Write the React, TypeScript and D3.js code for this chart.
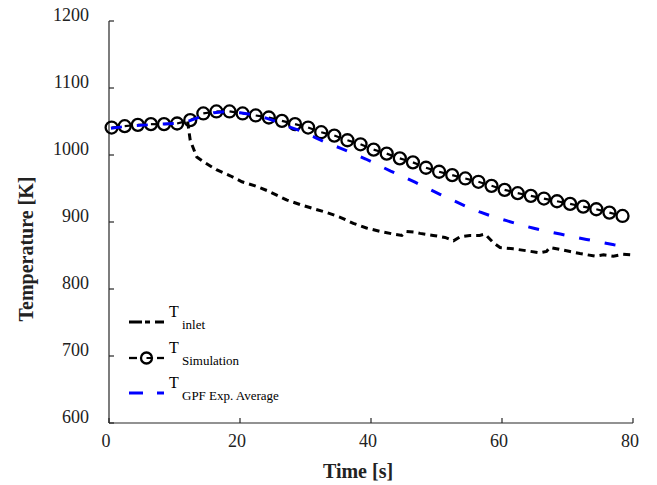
import React from "react";
import * as d3 from "d3";

// ---- data ----
const xTicks = [0, 20, 40, 60, 80];
const yTicks = [600, 700, 800, 900, 1000, 1100, 1200];

const simTime = [0.4, 2.4, 4.4, 6.4, 8.4, 10.4, 12.4, 14.4, 16.4, 18.4, 20.4, 22.4, 24.4, 26.4, 28.4, 30.4, 32.4, 34.4, 36.4, 38.4, 40.4, 42.4, 44.4, 46.4, 48.4, 50.4, 52.4, 54.4, 56.4, 58.4, 60.4, 62.4, 64.4, 66.4, 68.4, 70.4, 72.4, 74.4, 76.4, 78.4];
const simTemp = [1041, 1043, 1045, 1046, 1046, 1047, 1052, 1062, 1065, 1065, 1062, 1059, 1056, 1051, 1046, 1041, 1034, 1029, 1022, 1016, 1008, 1002, 995, 989, 981, 975, 970, 965, 960, 954, 948, 943, 939, 935, 931, 927, 923, 919, 914, 909];

const gpfTime = [0.3, 2, 4, 6, 8, 10, 12, 14, 16, 18, 20, 22, 24, 25.5, 27.5, 29.6, 31.5, 33.5, 35.4, 37.3, 39.2, 41.1, 43, 44.9, 46.8, 48.7, 50.6, 52.6, 54.6, 56.6, 58.6, 60.7, 62.7, 64.7, 66.8, 68.9, 70.9, 72.9, 75, 77.1, 78.5];
const gpfTemp = [1040, 1042, 1044, 1045, 1046, 1047, 1050, 1057, 1063, 1065, 1063, 1060, 1055, 1050, 1042, 1035, 1026, 1017, 1010, 1002, 994, 985, 976, 968, 959, 950, 941, 932, 923, 915, 908, 902, 896, 891, 886, 882, 878, 874, 870, 866, 864];

const inletTime = [12.0, 12.4, 13.4, 14.4, 16.4, 18.5, 20.3, 22.3, 24.1, 25.6, 27.1, 29.2, 31.2, 33.3, 35.3, 37.3, 39.3, 41.4, 43.4, 44.7, 45.4, 46.5, 47.5, 49.5, 51.3, 52.6, 53.6, 55.1, 56.6, 57.4, 57.8, 58.7, 59.7, 61.7, 63.8, 65.8, 66.8, 67.3, 68.9, 70.4, 71.9, 74.2, 75.5, 77, 78.5, 79.8];
const inletTemp = [1050, 1022, 997, 990, 978, 969, 960, 954, 947, 940, 933, 926, 920, 914, 907, 898, 891, 886, 882, 880, 886, 885, 883, 880, 877, 872, 878, 880, 880, 882, 878, 869, 862, 860, 857, 854, 856, 862, 859, 856, 853, 849, 851, 849, 852, 851];

const legendMain = ["T", "T", "T"];
const legendSub = ["inlet", "Simulation", "GPF Exp. Average"];

const W = 657;
const H = 485;
const x = d3.scaleLinear().domain([0, 80]).range([109, 633]);
const y = d3.scaleLinear().domain([600, 1200]).range([423, 21]);

const line = d3
  .line<[number, number]>()
  .x((d) => x(d[0]))
  .y((d) => y(d[1]));

const zip = (a: number[], b: number[]): [number, number][] => a.map((v, i) => [v, b[i]]);

export default function App() {
  const sim = zip(simTime, simTemp);
  const gpf = zip(gpfTime, gpfTemp);
  const inlet = zip(inletTime, inletTemp);
  const font = "'Liberation Serif', 'Times New Roman', serif";
  const axisColor = "#262626";
  const legendY = [322, 358, 393];
  return (
    <svg width={W} height={H} style={{ position: "absolute", left: 0, top: 0, background: "#fff" }} fontFamily={font}>
      <rect x={0} y={0} width={W} height={H} fill="#fff" />
      {/* axes */}
      <line x1={x(0)} x2={x(0)} y1={y(1200)} y2={y(600)} stroke={axisColor} strokeWidth={1.2} />
      <line x1={x(0)} x2={x(80)} y1={y(600)} y2={y(600)} stroke={axisColor} strokeWidth={1.2} />
      {yTicks.map((t) => (
        <g key={"y" + t}>
          <line x1={x(0)} x2={x(0) + 5} y1={y(t)} y2={y(t)} stroke={axisColor} strokeWidth={1.2} />
          <text x={89} y={y(t)} textAnchor="end" fontSize={18} fill="#222">
            {t}
          </text>
        </g>
      ))}
      {xTicks.map((t) => (
        <g key={"x" + t}>
          <line x1={x(t)} x2={x(t)} y1={y(600)} y2={y(600) - 5} stroke={axisColor} strokeWidth={1.2} />
          <text x={x(t) - 3} y={446.5} textAnchor="middle" fontSize={18} fill="#222">
            {t}
          </text>
        </g>
      ))}
      <text x={358} y={478} textAnchor="middle" fontSize={20} fontWeight="bold" fill="#222">
        Time [s]
      </text>
      <text
        transform={`translate(33,249) rotate(-90)`}
        textAnchor="middle"
        fontSize={20}
        fontWeight="bold"
        fill="#222"
      >
        Temperature [K]
      </text>

      {/* inlet */}
      <path d={line(inlet) || ""} fill="none" stroke="#000" strokeWidth={3} strokeDasharray="7,5" />

      {/* simulation: dashed line and circle markers */}
      {sim.slice(0, -1).map((p, i) => (
        <path
          key={"s" + i}
          d={line([p, sim[i + 1]]) || ""}
          fill="none"
          stroke="#000"
          strokeWidth={2.2}
          strokeDasharray="6.5,100"
        />
      ))}
      {sim.map((p, i) => (
        <circle key={"c" + i} cx={x(p[0])} cy={y(p[1])} r={6} fill="none" stroke="#000" strokeWidth={2.3} />
      ))}

      {/* GPF average */}
      <path d={line(gpf) || ""} fill="none" stroke="#0000ff" strokeWidth={3} strokeDasharray="11,15" />

      {/* legend */}
      <line x1={129} x2={164} y1={legendY[0]} y2={legendY[0]} stroke="#000" strokeWidth={3} strokeDasharray="13,3,5,5,10" />
      <line x1={129} x2={137} y1={legendY[1]} y2={legendY[1]} stroke="#000" strokeWidth={2.3} />
      <line x1={157} x2={164} y1={legendY[1]} y2={legendY[1]} stroke="#000" strokeWidth={2.3} />
      <circle cx={146.5} cy={legendY[1]} r={5.5} fill="none" stroke="#000" strokeWidth={2.3} />
      <line x1={146.5} x2={151} y1={legendY[1]} y2={legendY[1]} stroke="#000" strokeWidth={2} />
      <line x1={129} x2={143} y1={legendY[2]} y2={legendY[2]} stroke="#0000ff" strokeWidth={3} />
      <line x1={157} x2={164} y1={legendY[2]} y2={legendY[2]} stroke="#0000ff" strokeWidth={3} />
      {legendSub.map((s, i) => (
        <g key={"l" + i}>
          <text x={169} y={legendY[i] - 5} fontSize={16} fill="#000">
            {legendMain[i]}
          </text>
          <text x={182} y={legendY[i] + 7} fontSize={13} fill="#000">
            {s}
          </text>
        </g>
      ))}
    </svg>
  );
}
